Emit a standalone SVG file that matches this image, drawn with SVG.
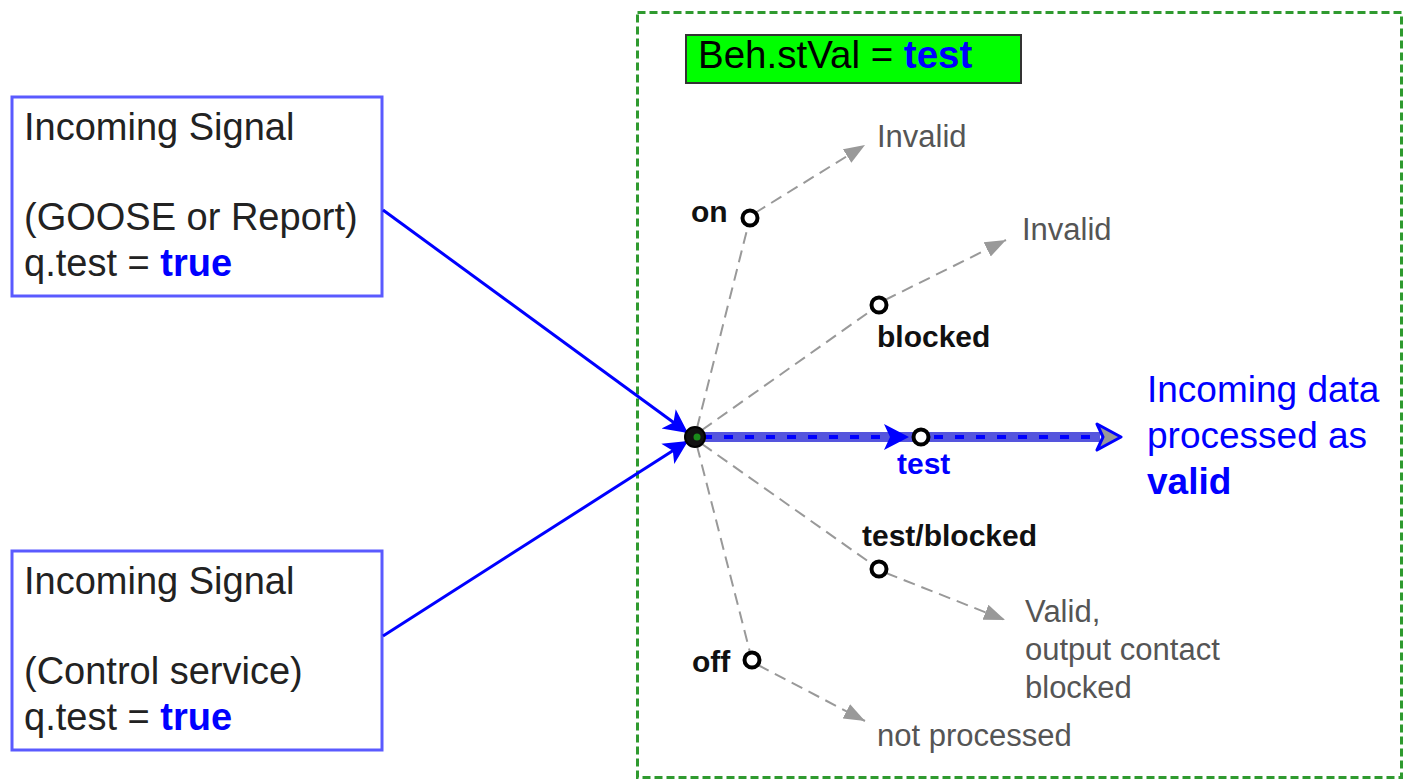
<svg xmlns="http://www.w3.org/2000/svg" width="1404" height="780" viewBox="0 0 1404 780">
<style>
text{font-family:"Liberation Sans",Arial,sans-serif}
.big{font-size:38px;fill:#222}
.blue{fill:#0000ff}
.b{font-weight:bold}
.gray{font-size:31px;fill:#555}
.lbl{font-size:30px;font-weight:bold;fill:#111}
.box{fill:#fff;stroke:#5a5aff;stroke-width:3}
.dash{fill:none;stroke:#999;stroke-width:2;stroke-dasharray:12 7}
.node{fill:#fff;stroke:#000;stroke-width:4}
.conn{fill:none;stroke:#0000ff;stroke-width:3}
</style>
<defs>
<marker id="ab" markerUnits="userSpaceOnUse" markerWidth="26" markerHeight="26" viewBox="0 0 26 26" refX="24" refY="13" orient="auto"><path d="M0,1 L24,13 L0,25 L6,13 Z" fill="#0000ff"/></marker>
<marker id="ag" markerUnits="userSpaceOnUse" markerWidth="22" markerHeight="18" viewBox="0 0 22 18" refX="21" refY="9" orient="auto"><path d="M0,1 L21,9 L0,17 Z" fill="#999"/></marker>
<marker id="aend" markerUnits="userSpaceOnUse" markerWidth="28" markerHeight="30" viewBox="0 0 28 30" refX="26" refY="15" orient="auto"><path d="M2,2 L26,15 L2,28 L8,15 Z" fill="#999" stroke="#0000ff" stroke-width="3" stroke-linejoin="round"/></marker>
</defs>
<rect x="637.5" y="12.5" width="764" height="765" fill="none" stroke="#2f9a2f" stroke-width="3" stroke-dasharray="8 4"/>
<g id="beh">
<rect x="686" y="35" width="335" height="48" fill="#00ff00" stroke="#333" stroke-width="2"/>
<text x="698" y="68" style="font-size:38.5px;fill:#000">Beh.stVal = <tspan class="blue b">test</tspan></text>
</g>
<g id="src1">
<rect class="box" x="12" y="97" width="370" height="199"/>
<text class="big" x="24" y="140">Incoming Signal</text>
<text class="big" x="24" y="230">(GOOSE or Report)</text>
<text class="big" x="24" y="276">q.test = <tspan class="blue b">true</tspan></text>
</g>
<g id="src2">
<rect class="box" x="12" y="551" width="370" height="199"/>
<text class="big" x="24" y="594">Incoming Signal</text>
<text class="big" x="24" y="684">(Control service)</text>
<text class="big" x="24" y="730">q.test = <tspan class="blue b">true</tspan></text>
</g>
<g id="connectors">
<line class="conn" x1="383" y1="210" x2="688" y2="433" marker-end="url(#ab)"/>
<line class="conn" x1="383" y1="636" x2="688" y2="441" marker-end="url(#ab)"/>
<line x1="703" y1="437" x2="1100" y2="437" stroke="#5555dd" stroke-width="10"/>
<line x1="703" y1="437" x2="1100" y2="437" stroke="#0000ff" stroke-width="4" stroke-dasharray="9 12"/>
<path d="M884,424 L909,437 L884,450 L890,437 Z" fill="#0000ff"/>
<line x1="1090" y1="437" x2="1121" y2="437" stroke="none" marker-end="url(#aend)"/>
<path class="dash" d="M697,428 L750,218"/>
<path class="dash" d="M755,213 L865,145" marker-end="url(#ag)"/>
<path class="dash" d="M702,430 L879,305"/>
<path class="dash" d="M885,300 L1006,240" marker-end="url(#ag)"/>
<path class="dash" d="M702,444 L879,569"/>
<path class="dash" d="M886,573 L1005,620" marker-end="url(#ag)"/>
<path class="dash" d="M697,446 L752,660"/>
<path class="dash" d="M758,665 L865,721" marker-end="url(#ag)"/>
</g>
<g id="hub">
<circle cx="695" cy="437" r="10" fill="#111" stroke="#000" stroke-width="2"/>
<circle cx="697" cy="437" r="3.5" fill="#1a8a1a"/>
</g>
<g id="on">
<circle class="node" cx="750" cy="218" r="7.5"/>
<text class="lbl" x="691" y="222">on</text>
<text class="gray" x="877" y="147">Invalid</text>
</g>
<g id="blocked">
<circle class="node" cx="879" cy="305" r="7.5"/>
<text class="lbl" x="877" y="347">blocked</text>
<text class="gray" x="1022" y="240">Invalid</text>
</g>
<g id="test">
<circle class="node" cx="921" cy="437" r="7.5"/>
<text class="lbl" x="897" y="474" style="fill:#0000ff">test</text>
<text x="1147" y="402" style="font-size:37px;fill:#0000ff">Incoming data</text>
<text x="1147" y="448" style="font-size:37px;fill:#0000ff">processed as</text>
<text x="1147" y="494" style="font-size:37px;fill:#0000ff;font-weight:bold">valid</text>
</g>
<g id="testblocked">
<circle class="node" cx="879" cy="569" r="7.5"/>
<text class="lbl" x="862" y="546">test/blocked</text>
<text class="gray" x="1025" y="622">Valid,</text>
<text class="gray" x="1025" y="660">output contact</text>
<text class="gray" x="1025" y="698">blocked</text>
</g>
<g id="off">
<circle class="node" cx="752" cy="660" r="7.5"/>
<text class="lbl" x="692" y="672">off</text>
<text class="gray" x="877" y="746">not processed</text>
</g>
</svg>
